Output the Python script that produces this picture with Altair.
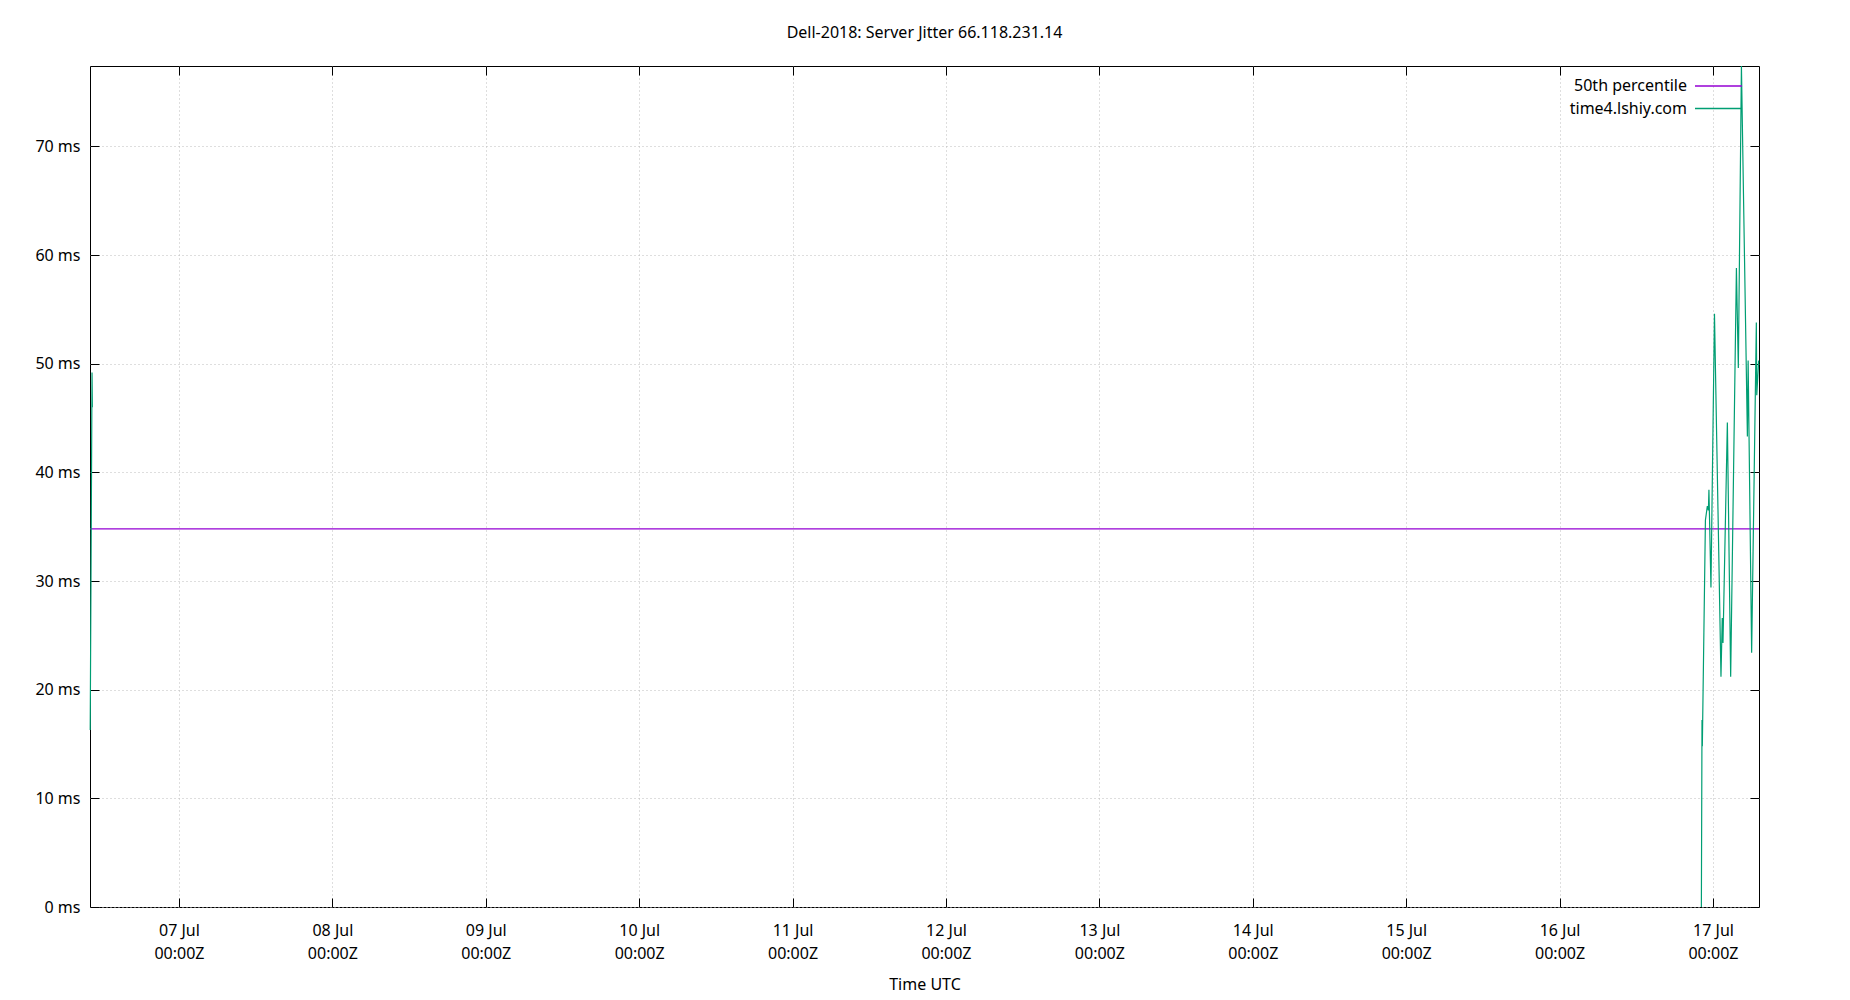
import altair as alt
import pandas as pd

CHART_TITLE = "Dell-2018: Server Jitter 66.118.231.14"
X_TITLE = "Time UTC"
SERIES = ["50th percentile", "time4.lshiy.com"]
COLORS = ["#9400d3", "#009e73"]

# time4.lshiy.com jitter (ms) -- two separate runs of samples
run1_time = ["2024-07-06T10:07:00Z", "2024-07-06T10:24:00Z", "2024-07-06T10:27:00Z"]
run1_ms = [16.3, 49.2, 46.0]

run2_time = [
    "2024-07-16T22:11:00Z", "2024-07-16T22:17:00Z", "2024-07-16T22:20:00Z", "2024-07-16T22:49:00Z",
    "2024-07-16T23:07:00Z", "2024-07-16T23:17:00Z", "2024-07-16T23:22:00Z", "2024-07-16T23:41:00Z",
    "2024-07-17T00:14:00Z", "2024-07-17T01:15:00Z", "2024-07-17T01:27:00Z", "2024-07-17T01:34:00Z",
    "2024-07-17T02:15:00Z", "2024-07-17T02:46:00Z", "2024-07-17T03:40:00Z", "2024-07-17T03:58:00Z",
    "2024-07-17T04:27:00Z", "2024-07-17T05:23:00Z", "2024-07-17T05:30:00Z", "2024-07-17T06:03:00Z",
    "2024-07-17T06:47:00Z", "2024-07-17T06:51:00Z", "2024-07-17T07:09:00Z",
]
run2_ms = [0.0, 17.2, 14.8, 35.6, 36.9, 36.5, 38.4, 29.4, 54.6, 21.2, 26.6, 24.3,
           44.6, 21.2, 58.8, 49.6, 77.4, 43.3, 50.3, 23.4, 53.8, 47.1, 50.3]

# 50th percentile (ms), spanning the whole period
p50_time = ["2024-07-06T10:05:00Z", "2024-07-17T07:12:00Z"]
p50_ms = [34.8, 34.8]

# axis ticks
tick_days = [7, 8, 9, 10, 11, 12, 13, 14, 15, 16, 17]
y_ticks = [0, 10, 20, 30, 40, 50, 60, 70]
y_max = 77.4

jitter = pd.DataFrame({
    "time": run1_time + run2_time,
    "ms": run1_ms + run2_ms,
    "series": SERIES[1],
    "run": ["a"] * len(run1_time) + ["b"] * len(run2_time),
})
p50 = pd.DataFrame({"time": p50_time, "ms": p50_ms, "series": SERIES[0]})

x_dom = [alt.DateTime(year=2024, month=7, date=6, hours=10, minutes=5, utc=True),
         alt.DateTime(year=2024, month=7, date=17, hours=7, minutes=12, utc=True)]
x_vals = [alt.DateTime(year=2024, month=7, date=d, utc=True) for d in tick_days]
x_scale = alt.Scale(type="utc", domain=x_dom)
y_scale = alt.Scale(domain=[0, y_max], nice=False, zero=True)

FONT = "Noto Sans"
GRID = dict(gridColor="#bdbdbd", gridDash=[1, 3], gridWidth=1)

# gnuplot-style key: right-aligned label followed by a line sample on its right
legend = alt.Legend(
    title=None, orient="none", legendX=1461, legendY=12,
    symbolType="M 3.2,0 H 12.6", symbolSize=100, symbolStrokeWidth=1.3, symbolOffset=120,
    labelAlign="right", labelOffset=0, rowPadding=6.5,
    labelFontSize=16, labelFont=FONT, labelColor="black", padding=0, labelLimit=0,
)
color = alt.Color("series:N", scale=alt.Scale(domain=SERIES, range=COLORS), legend=legend)

# layer A: percentile line, carries the mirrored (top / right) tick marks
layer_a = alt.Chart(p50).mark_line(strokeWidth=1.2).encode(
    x=alt.X("time:T", scale=x_scale,
            axis=alt.Axis(orient="top", values=x_vals, offset=-9, tickSize=9, labels=False,
                          domain=False, grid=False, title=None, tickColor="black")),
    y=alt.Y("ms:Q", scale=y_scale,
            axis=alt.Axis(orient="right", values=y_ticks, offset=-9, tickSize=9, labels=False,
                          domain=False, grid=False, title=None, tickColor="black")),
    color=color,
)

# layer B: jitter line, carries labelled bottom / left axes and the grid
layer_b = alt.Chart(jitter).mark_line(strokeWidth=1.2).encode(
    x=alt.X("time:T", scale=x_scale,
            axis=alt.Axis(orient="bottom", values=x_vals, offset=-9, tickSize=9, domain=False,
                          grid=True, **GRID, tickColor="black",
                          labelExpr="[utcFormat(datum.value, '%d %b'), utcFormat(datum.value, '%H:%MZ')]",
                          labelPadding=15, labelLineHeight=23, labelFontSize=16, labelFont=FONT,
                          labelColor="black", labelOverlap=False, labelFlush=False,
                          title=X_TITLE, titlePadding=15, titleFontSize=16, titleFont=FONT,
                          titleFontWeight="normal", titleColor="black")),
    y=alt.Y("ms:Q", scale=y_scale,
            axis=alt.Axis(orient="left", values=y_ticks, offset=-9, tickSize=9, domain=False,
                          grid=True, **GRID, tickColor="black",
                          labelExpr="datum.value + ' ms'", labelPadding=10,
                          labelFontSize=16, labelFont=FONT, labelColor="black", title=None)),
    color=color,
    detail="run:N",
)

chart = alt.layer(layer_a, layer_b).resolve_axis(
    x="independent", y="independent"
).properties(
    width=1669, height=841,
    title=alt.TitleParams(CHART_TITLE, fontSize=16, fontWeight="normal", font=FONT, color="black",
                          anchor="middle", frame="group", offset=10, baseline="alphabetic"),
    autosize=alt.AutoSizeParams(type="none"),
    padding={"left": 82, "top": 58, "right": 83, "bottom": 85},
).configure(font=FONT, background="white").configure_view(stroke="black", strokeWidth=1)

chart.save("out.html", embed_options={"renderer": "svg", "actions": False})
